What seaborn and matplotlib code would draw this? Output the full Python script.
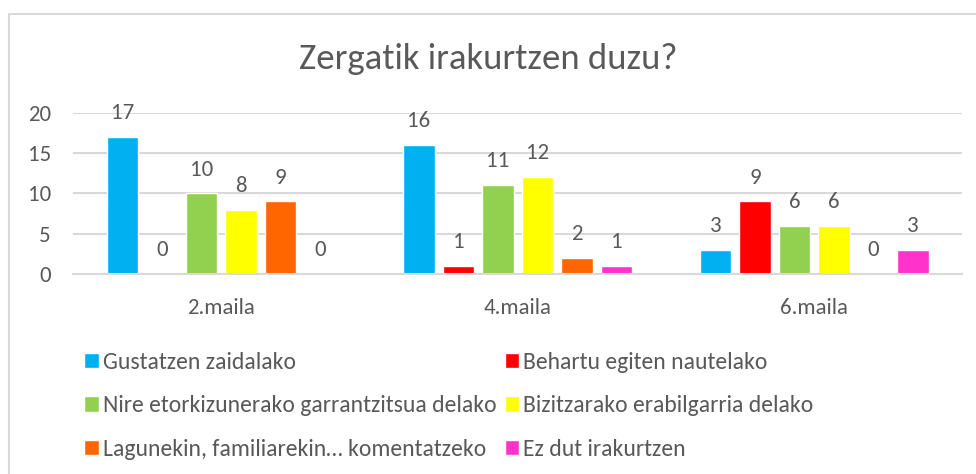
import pandas as pd
import seaborn as sns
import matplotlib.pyplot as plt
from matplotlib.patches import Rectangle

# data
groups = ["2.maila", "4.maila", "6.maila"]
reasons = [
    "Gustatzen zaidalako",
    "Behartu egiten nautelako",
    "Nire etorkizunerako garrantzitsua delako",
    "Bizitzarako erabilgarria delako",
    "Lagunekin, familiarekin… komentatzeko",
    "Ez dut irakurtzen",
]
gustatzen = [17, 16, 3]
behartu = [0, 1, 9]
etorkizuna = [10, 11, 6]
bizitza = [8, 12, 6]
lagunekin = [9, 2, 0]
ez_dut = [0, 1, 3]

colours = ["#00B0F0", "#FF0000", "#92D050", "#FFFF00", "#FF6600", "#FF33CC"]

rows = []
for reason, vals in zip(reasons, [gustatzen, behartu, etorkizuna, bizitza, lagunekin, ez_dut]):
    for g, v in zip(groups, vals):
        rows.append({"maila": g, "arrazoia": reason, "kopurua": v})
df = pd.DataFrame(rows)

sns.set_style("white")
plt.rcParams["font.family"] = ["Carlito", "Open Sans", "DejaVu Sans"]
text_col = "#595959"
grid_col = "#D9D9D9"
fs = 16.5

fig = plt.figure(figsize=(9.76, 4.74), dpi=100)
ax = fig.add_axes([0.075, 0.422, 0.911, 0.340])

sns.barplot(data=df, x="maila", y="kopurua", hue="arrazoia", hue_order=reasons,
            palette=colours, width=0.8, gap=0.2, saturation=1, ax=ax)

for cont in ax.containers:
    ax.bar_label(cont, padding=10, fontsize=fs, color=text_col)

ax.set_ylim(0, 20)
ax.set_yticks([0, 5, 10, 15, 20])
ax.yaxis.grid(True, color=grid_col, linewidth=1.5)
ax.set_axisbelow(True)
for s in ["left", "right", "top"]:
    ax.spines[s].set_visible(False)
ax.spines["bottom"].set_color(grid_col)
ax.spines["bottom"].set_linewidth(1.5)
ax.tick_params(axis="y", length=0, labelsize=fs, colors=text_col, pad=16)
ax.tick_params(axis="x", length=0, labelsize=fs, colors=text_col, pad=17)
ax.set_xlabel("")
ax.set_ylabel("")

fig.text(0.5, 1 - 59 / 474, "Zergatik irakurtzen duzu?", ha="center", va="center",
         fontsize=26.5, color=text_col)

# legend row-wise in two columns
handles, labels = ax.get_legend_handles_labels()
order = [0, 2, 4, 1, 3, 5]
ax.legend([handles[i] for i in order], [labels[i] for i in order],
          loc="upper left", bbox_to_anchor=(84 / 976, 1 - 352 / 474),
          bbox_transform=fig.transFigure,
          ncol=2, frameon=False, labelcolor=text_col, fontsize=17,
          handlelength=0.63, handleheight=0.63, handletextpad=0.17,
          columnspacing=0.34, labelspacing=0.95, borderaxespad=0, borderpad=0)

# light chart frame
fig.patches.append(Rectangle((8.5 / 976, -0.1), 1.1, 1.1 - 14.5 / 474,
                             transform=fig.transFigure, fill=False,
                             edgecolor=grid_col, linewidth=1.5))

fig.savefig("out.png", dpi=100)
